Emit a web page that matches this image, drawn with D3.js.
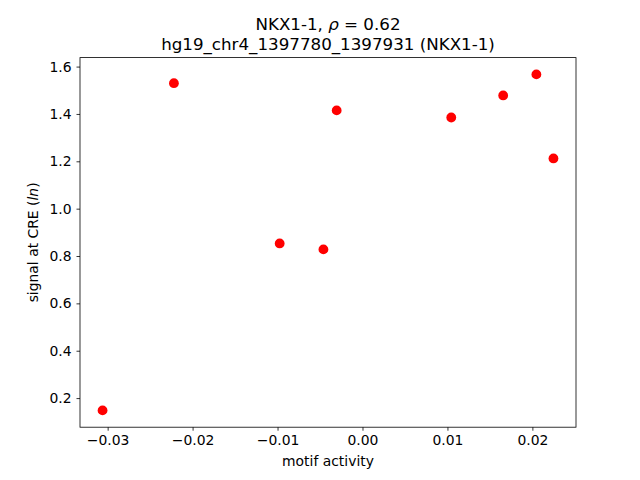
<!DOCTYPE html>
<html><head><meta charset="utf-8">
<script src="https://cdn.jsdelivr.net/npm/d3@7"></script>
<style>body{margin:0;background:#fff}text{font-family:"DejaVu Sans",sans-serif}</style>
</head><body>
<svg id="c" width="640" height="480"></svg>
<script>
const xValues = [-0.0306, -0.0222, -0.00975, -0.0046, -0.00304, 0.01045, 0.01656, 0.02047, 0.02248];
const yValues = [0.148, 1.530, 0.853, 0.828, 1.415, 1.385, 1.478, 1.567, 1.212];
const xTicks = [-0.03, -0.02, -0.01, 0.00, 0.01, 0.02];
const xTickLabels = ["\u22120.03", "\u22120.02", "\u22120.01", "0.00", "0.01", "0.02"];
const yTicks = [0.2, 0.4, 0.6, 0.8, 1.0, 1.2, 1.4, 1.6];
const yTickLabels = ["0.2", "0.4", "0.6", "0.8", "1.0", "1.2", "1.4", "1.6"];

const svg = d3.select("#c");
const L = 80, R = 576, T = 57.6, B = 427.2;
const xMin = d3.min(xValues), xMax = d3.max(xValues);
const yMin = d3.min(yValues), yMax = d3.max(yValues);
const xm = (xMax - xMin) * 0.05, ym = (yMax - yMin) * 0.05;
const x = d3.scaleLinear().domain([xMin - xm, xMax + xm]).range([L, R]);
const y = d3.scaleLinear().domain([yMin - ym, yMax + ym]).range([B, T]);

const xAxis = d3.axisBottom(x).tickValues(xTicks).tickFormat((d, i) => xTickLabels[i]).tickSizeOuter(0).tickSize(3.5).tickPadding(4.9);
const yAxis = d3.axisLeft(y).tickValues(yTicks).tickFormat((d, i) => yTickLabels[i]).tickSizeOuter(0).tickSize(3.5).tickPadding(4.9);

const gx = svg.append("g").attr("transform", `translate(0,${B})`).call(xAxis);
const gy = svg.append("g").attr("transform", `translate(${L},0)`).call(yAxis);
[gx, gy].forEach(g => {
  g.select(".domain").remove();
  g.selectAll("text").attr("font-size", "13.9px").attr("fill", "#000").attr("font-family", "DejaVu Sans");
  g.selectAll("line").attr("stroke", "#000").attr("stroke-width", 0.8);
});

svg.append("g").selectAll("circle").data(xValues).enter().append("circle")
  .attr("cx", (d) => x(d)).attr("cy", (d, i) => y(yValues[i])).attr("r", 4.9).attr("fill", "#ff0000");

svg.append("rect").attr("x", L).attr("y", T).attr("width", R - L).attr("height", B - T)
  .attr("fill", "none").attr("stroke", "#000").attr("stroke-width", 0.8);

svg.append("text").attr("x", (L + R) / 2).attr("y", 466).attr("text-anchor", "middle").attr("font-size", "13.9px").text("motif activity");

const yl = svg.append("text").attr("transform", `translate(38,${(T + B) / 2}) rotate(-90)`).attr("text-anchor", "middle").attr("font-size", "13.9px");
yl.append("tspan").text("signal at CRE (");
yl.append("tspan").attr("font-style", "italic").text("ln");
yl.append("tspan").text(")");

const t1 = svg.append("text").attr("x", (L + R) / 2).attr("y", 30).attr("text-anchor", "middle").attr("font-size", "16.7px");
t1.append("tspan").text("NKX1-1, ");
t1.append("tspan").attr("font-style", "italic").text("\u03C1");
t1.append("tspan").text(" = 0.62");
svg.append("text").attr("x", (L + R) / 2).attr("y", 49.5).attr("text-anchor", "middle").attr("font-size", "16.7px").text("hg19_chr4_1397780_1397931 (NKX1-1)");
</script>
</body></html>
